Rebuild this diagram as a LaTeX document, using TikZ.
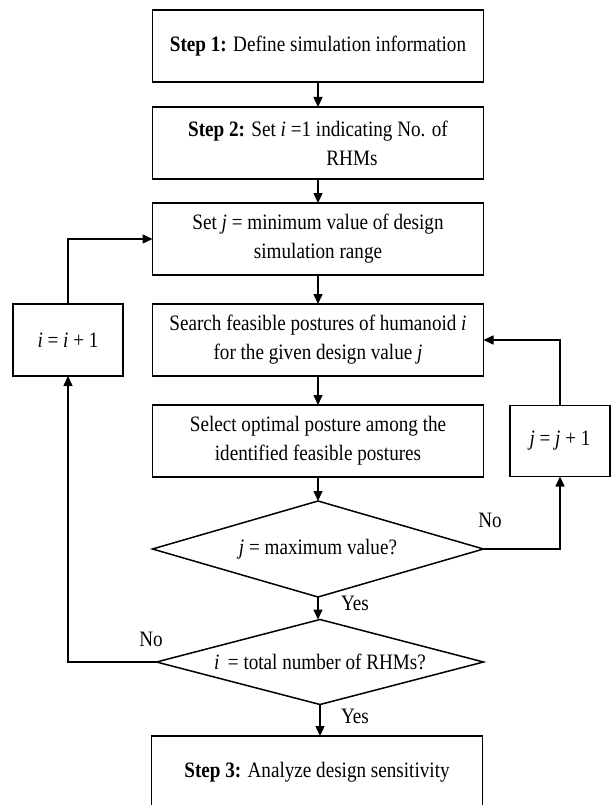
\documentclass[tikz,border=0pt]{standalone}
\usepackage{fontspec}
\setmainfont{Liberation Serif}[FakeStretch=0.87]
\usetikzlibrary{arrows.meta,shapes.geometric}
\begin{document}
\begin{tikzpicture}[x=1pt,y=-1pt,
  every node/.style={font=\fontsize{22}{29}\selectfont},
  procbox/.style={draw,line width=1.5pt,minimum width=331pt,minimum height=72pt,align=center,inner sep=2pt,outer sep=0pt},
  smallbox/.style={draw,line width=1.5pt,minimum height=72pt,align=center,inner sep=2pt,outer sep=0pt},
  decision/.style={draw,line width=1.5pt,shape=diamond,inner sep=0pt,outer sep=0pt,align=center},
  flow/.style={line width=1.5pt,-{Triangle[length=10pt,width=9pt]}},
  lbl/.style={inner sep=0pt}]
\useasboundingbox (0,0) rectangle (612,805);

\node[procbox] (b1) at (318,46) {\textbf{Step 1:} Define simulation information};
\node[procbox] (b2) at (318,143) {\textbf{Step 2:} Set \textit{i} =1 indicating No. of\\\hspace*{68pt}RHMs};
\node[procbox] (b3) at (318,239) {Set \textit{j} = minimum value of design\\simulation range};
\node[procbox] (b4) at (318,340) {Search feasible postures of humanoid \textit{i}\\for the given design value \textit{j}};
\node[procbox] (b5) at (318,441) {Select optimal posture among the\\identified feasible postures};
\node[smallbox,minimum width=110pt] (bi) at (68,340) {\textit{i} = \textit{i} + 1};
\node[smallbox,minimum width=100pt,minimum height=71pt] (bj) at (560,441) {\textit{j} = \textit{j} + 1};
\node[decision,minimum width=331pt,minimum height=96pt,aspect=3.45] (d1) at (318,549) {\textit{j} = maximum value?};
\node[decision,minimum width=327pt,minimum height=85pt,aspect=3.85] (d2) at (320,662) {\textit{i}\, = total number of RHMs?};
\node[procbox] (b6) at (317,772) {\textbf{Step 3:} Analyze design sensitivity};

\draw[flow] (b1) -- (b2);
\draw[flow] (b2) -- (b3);
\draw[flow] (b3) -- (b4);
\draw[flow] (b4) -- (b5);
\draw[flow] (b5) -- (d1.north);
\draw[flow] (d1.south) -- (d2.north -| d1.south);
\draw[flow] (d2.south) -- (b6.north -| d2.south);
\draw[flow] (d1.east) -| (bj.south);
\draw[flow] (bj.north) |- (b4.east);
\draw[flow] (d2.west) -| (bi.south);
\draw[flow] (bi.north) |- (b3.west);

\node[lbl] (no1) at (490,520) {No};
\node[lbl] (yes1) at (355,603) {Yes};
\node[lbl] (no2) at (151,639) {No};
\node[lbl] (yes2) at (355,716) {Yes};
\end{tikzpicture}
\end{document}
